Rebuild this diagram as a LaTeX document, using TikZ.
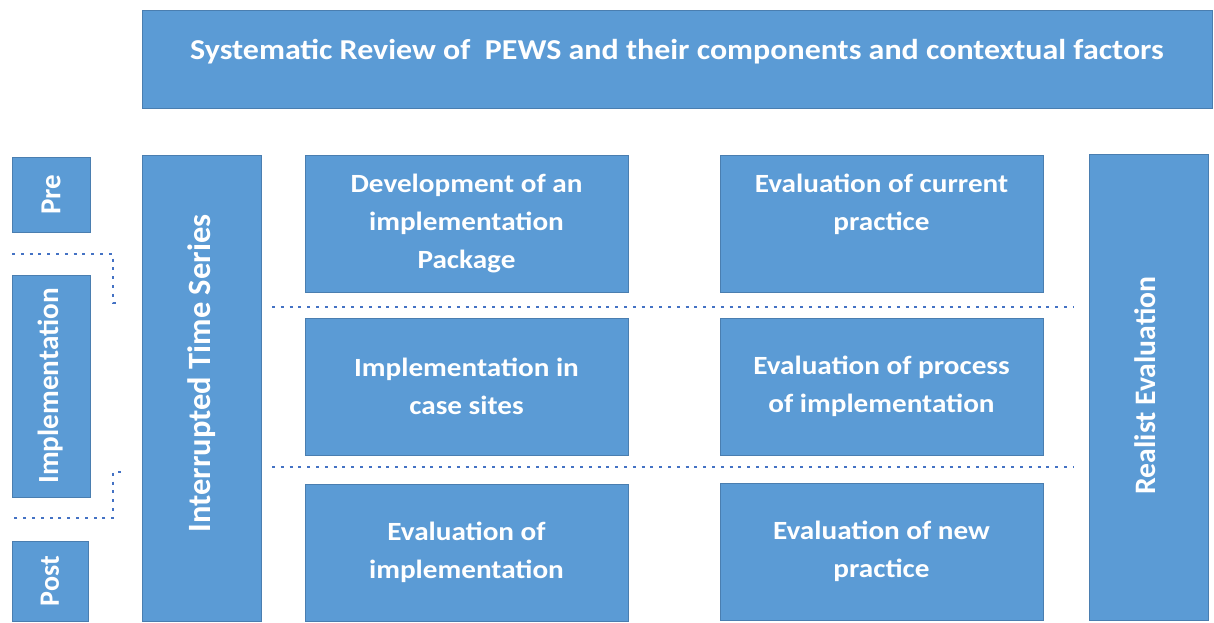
\documentclass[tikz,border=0pt]{standalone}
\usepackage{fontspec}
\setmainfont{Carlito}
\newfontfamily\widefont{Carlito}[FakeStretch=1.11]
\begin{document}
\begin{tikzpicture}[x=1pt,y=-1pt,
  box/.style={draw=boxedge,fill=boxfill,line width=1pt,inner sep=0pt},
  panel/.style={box,text=white,
    font=\widefont\fontsize{26.3}{38}\selectfont\bfseries,align=center},
  sidebox/.style={box,rotate=90,text=white,font=\bfseries},
  vlabel/.style={text=white,rotate=90,inner sep=0pt},
  phase/.style={draw=dotblue,line width=2.6pt,dash pattern=on 3pt off 5.8pt}]
\definecolor{boxfill}{HTML}{5B9BD5}
\definecolor{boxedge}{HTML}{4A7EB0}
\definecolor{dotblue}{HTML}{4472C4}
\useasboundingbox (0,0) rectangle (1214,623);

% overarching review
\node[box,minimum width=1070pt,minimum height=98pt,anchor=north west] (review) at (142,10) {};
\node[text=white,font=\widefont\fontsize{28.8}{38}\selectfont\bfseries,anchor=base] (reviewtxt) at (677,60)
  {Systematic Review of \ PEWS and their components and contextual factors};

% study phases
\node[sidebox,minimum width=75pt,minimum height=78pt,font=\fontsize{29}{34}\selectfont\bfseries] (pre) at (51,194.5) {Pre};
\node[sidebox,minimum width=222pt,minimum height=78pt,font=\fontsize{29.2}{34}\selectfont\bfseries] (impl) at (51,386) {Implementation};
\node[sidebox,minimum width=80pt,minimum height=76pt,font=\fontsize{28}{34}\selectfont\bfseries] (post) at (50,581) {Post};

% interrupted time series
\node[box,minimum width=119pt,minimum height=466pt] (its) at (201.5,388) {};
\node[vlabel,font=\fontsize{32.5}{38}\selectfont\bfseries] (itstxt) at (201.5,373.5) {Interrupted Time Series};

% work packages
\node[panel,minimum width=323pt,minimum height=137pt] (dev) at (466.5,223.5)
  {Development of an\\implementation\\Package};
\node[panel,minimum width=323pt,minimum height=137pt] (site) at (466.5,386.5)
  {Implementation in\\case sites};
\node[panel,minimum width=323pt,minimum height=137pt] (evimp) at (466.5,552.5)
  {Evaluation of\\implementation};
\node[panel,minimum width=323pt,minimum height=137pt] (cur) at (881.5,223.5)
  {Evaluation of current\\practice\\\phantom{p}};
\node[panel,minimum width=323pt,minimum height=137pt] (proc) at (881.5,386.5)
  {Evaluation of process\\of implementation};
\node[panel,minimum width=323pt,minimum height=137pt] (newp) at (881.5,551.5)
  {Evaluation of new\\practice};

% realist evaluation
\node[box,minimum width=119pt,minimum height=466pt] (realist) at (1148.5,387) {};
\node[vlabel,font=\fontsize{29.7}{38}\selectfont\bfseries] (realtxt) at (1145,385.5) {Realist Evaluation};

% phase boundaries
\coordinate (a1) at (12,254);
\coordinate (a2) at (113,303);
\coordinate (a3) at (121,303);
\coordinate (b1) at (121,472);
\coordinate (b2) at (113,472);
\coordinate (b3) at (12,518);
\coordinate (c1) at (272,307);
\coordinate (c2) at (1073,307);
\coordinate (d1) at (272,467);
\coordinate (d2) at (1073,467);
\draw[phase] (a1) -| (a2) -- (a3);
\draw[phase] (b1) -- (b2) |- (b3);
\draw[phase] (c1) -- (c2);
\draw[phase] (d1) -- (d2);
\end{tikzpicture}
\end{document}
